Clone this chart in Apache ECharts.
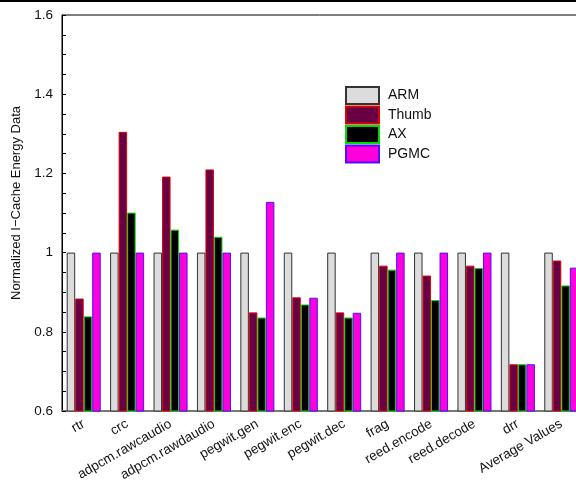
<!DOCTYPE html>
<html>
<head>
<meta charset="utf-8">
<script src="https://cdn.jsdelivr.net/npm/echarts@6/dist/echarts.min.js"></script>
<style>
  html, body { margin: 0; padding: 0; background: #fff; }
  #chart { width: 576px; height: 480px; }
</style>
</head>
<body>
<div id="chart"></div>
<script>
// Benchmarks on the category axis
const categories = ['rtr', 'crc', 'adpcm.rawcaudio', 'adpcm.rawdaudio', 'pegwit.gen', 'pegwit.enc',
  'pegwit.dec', 'frag', 'reed.encode', 'reed.decode', 'drr', 'Average Values'];

// Normalized I-Cache energy per configuration
const armValues   = [1, 1, 1, 1, 1, 1, 1, 1, 1, 1, 1, 1];
const thumbValues = [0.884, 1.305, 1.192, 1.210, 0.849, 0.887, 0.849, 0.967, 0.942, 0.967, 0.718, 0.980];
const axValues    = [0.839, 1.101, 1.058, 1.040, 0.836, 0.869, 0.836, 0.957, 0.880, 0.961, 0.718, 0.917];
const pgmcValues  = [1, 1, 1, 1, 1.128, 0.886, 0.848, 1, 1, 1, 0.718, 0.962];

const yTicks = [0.6, 0.8, 1, 1.2, 1.4, 1.6];

const seriesDefs = [
  { name: 'ARM',   data: armValues,   fill: '#dcdcdc', edge: '#333333' },
  { name: 'Thumb', data: thumbValues, fill: '#680046', edge: '#e00000' },
  { name: 'AX',    data: axValues,    fill: '#000000', edge: '#00dd00' },
  { name: 'PGMC',  data: pgmcValues,  fill: '#ff00dd', edge: '#4a10ff' }
];

const chart = echarts.init(document.getElementById('chart'), null, { renderer: 'canvas' });

chart.setOption({
  backgroundColor: '#ffffff',
  animation: false,
  textStyle: { fontFamily: 'Liberation Sans, Arial, sans-serif' },
  graphic: [
    { type: 'rect', shape: { x: 0, y: 0, width: 576, height: 2 }, style: { fill: '#000' }, z: 100 }
  ],
  legend: {
    orient: 'vertical',
    left: 345,
    top: 86,
    padding: 0,
    itemWidth: 33,
    itemHeight: 17,
    itemGap: 0.5,
    icon: 'rect',
    textStyle: { fontSize: 14, lineHeight: 17, color: '#111', padding: [0, 0, 0, 4] },
    data: seriesDefs.map(s => s.name)
  },
  grid: {
    left: 62,
    top: 15,
    width: 521,
    height: 396,
    show: true,
    borderColor: '#000',
    borderWidth: 1,
    outerBoundsMode: 'none',
    containLabel: false
  },
  xAxis: {
    type: 'category',
    data: categories,
    axisLine: { show: true, lineStyle: { color: '#777', width: 2 } },
    axisTick: { show: false },
    axisLabel: {
      rotate: 30,
      interval: 0,
      fontSize: 13.5,
      color: '#111',
      margin: 12
    }
  },
  yAxis: {
    type: 'value',
    min: 0.6,
    max: 1.6,
    interval: 0.2,
    name: 'Normalized I\u2212Cache Energy Data',
    nameLocation: 'middle',
    nameGap: 37,
    nameTextStyle: { fontSize: 13, color: '#111', padding: [0, 0, 0, 20] },
    axisLine: { show: true, lineStyle: { color: '#000', width: 1 } },
    axisTick: { show: true, inside: true, length: 4, lineStyle: { color: '#000' } },
    minorTick: { show: true, splitNumber: 4, length: 4, lineStyle: { color: '#000' } },
    splitLine: { show: false },
    axisLabel: {
      fontSize: 13.5,
      color: '#111',
      margin: 9,
      formatter: v => {
        const hit = yTicks.find(t => Math.abs(t - v) < 1e-6);
        return hit === undefined ? '' : String(hit);
      }
    }
  },
  series: seriesDefs.map(s => ({
    type: 'bar',
    name: s.name,
    data: s.data,
    barGap: '0%',
    barCategoryGap: '21.6%',
    itemStyle: { color: s.fill, borderColor: s.edge, borderWidth: 1 }
  }))
});
</script>
</body>
</html>
